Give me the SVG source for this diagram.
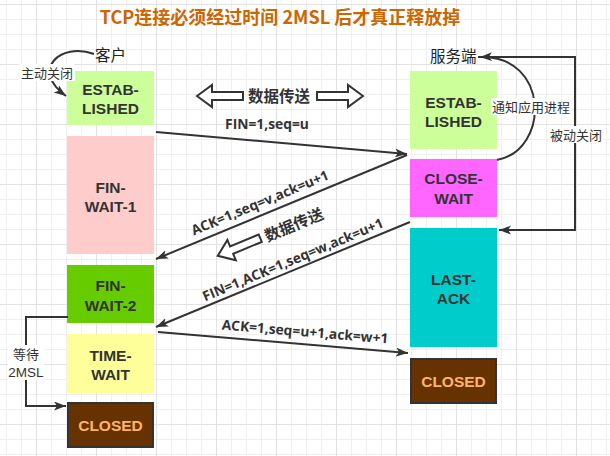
<svg xmlns="http://www.w3.org/2000/svg" width="610" height="456" viewBox="0 0 610 456">
  <defs>
    <pattern id="grid" x="36" y="4" width="60" height="60" patternUnits="userSpaceOnUse">
      <path d="M15.5 0V60M30.5 0V60M45.5 0V60M0 15.5H60M0 30.5H60M0 45.5H60" stroke="#f0f0f0" stroke-width="1" fill="none"/>
      <path d="M0.5 0V60M0 0.5H60" stroke="#e2e2e2" stroke-width="1" fill="none"/>
    </pattern>
    <marker id="arrow" markerUnits="userSpaceOnUse" markerWidth="13" markerHeight="10" refX="12" refY="4.5" orient="auto">
      <path d="M0,0 L12,4.5 L0,9 L3,4.5 Z" fill="#333"/>
    </marker>
    <path id="hollowLeft" d="M-23,0 L-8,-11 L-8,-4 L23,-4 L23,4 L-8,4 L-8,11 Z"/>
  </defs>
  <style>
    .box-text { font-family: 'Liberation Sans', Arial, 'Noto Sans CJK SC', sans-serif; font-weight: bold; font-size: 15.5px; fill: #333; text-anchor: middle; }
    .closed-text { fill: #ffb366; }
    .edge { fill: none; stroke: #333; stroke-width: 2; }
    .edge-label { font-family: 'Open Sans', 'Noto Sans', sans-serif; font-weight: bold; font-size: 13.8px; fill: #333; text-anchor: middle; }
    .cjk { font-family: 'Noto Sans CJK SC', sans-serif; fill: #333; }
    .note { font-size: 13px; text-anchor: middle; }
    .latin-note { font-family: 'Liberation Sans', Arial, sans-serif; font-size: 13.5px; fill: #333; text-anchor: middle; }
    .side { font-size: 15.5px; fill: #222; }
    .hollow { fill: #fff; stroke: #333; stroke-width: 2; stroke-linejoin: miter; }
  </style>

  <!-- background grid -->
  <rect width="610" height="456" fill="#fff"/>
  <rect width="610" height="456" fill="url(#grid)"/>

  <!-- title -->
  <text x="280" y="24" class="cjk" style="font-size:18px;font-weight:bold;fill:#cc6600" text-anchor="middle">TCP连接必须经过时间 2MSL 后才真正释放掉</text>

  <!-- side headings -->
  <text x="95" y="61" class="cjk side">客户</text>
  <text x="430" y="62" class="cjk side">服务端</text>

  <!-- client states -->
  <g id="client-established">
    <rect x="67" y="71" width="87" height="54" fill="#ccff99"/>
    <text class="box-text"><tspan x="110.5" y="95">ESTAB-</tspan><tspan x="110.5" y="114">LISHED</tspan></text>
  </g>
  <g id="client-fin-wait-1">
    <rect x="67" y="136" width="87" height="118" fill="#ffcccc"/>
    <text class="box-text"><tspan x="110.5" y="193">FIN-</tspan><tspan x="110.5" y="212">WAIT-1</tspan></text>
  </g>
  <g id="client-fin-wait-2">
    <rect x="67" y="265" width="87" height="58" fill="#66cc00"/>
    <text class="box-text"><tspan x="110.5" y="291">FIN-</tspan><tspan x="110.5" y="311">WAIT-2</tspan></text>
  </g>
  <g id="client-time-wait">
    <rect x="67" y="334" width="87" height="59" fill="#ffff99"/>
    <text class="box-text"><tspan x="110.5" y="361">TIME-</tspan><tspan x="110.5" y="380">WAIT</tspan></text>
  </g>
  <g id="client-closed">
    <rect x="68" y="403" width="85" height="44" fill="#663300" stroke="#333" stroke-width="2"/>
    <text class="box-text closed-text" x="110.5" y="431">CLOSED</text>
  </g>

  <!-- server states -->
  <g id="server-established">
    <rect x="410" y="71" width="87" height="78" fill="#ccff99"/>
    <text class="box-text"><tspan x="453.5" y="108">ESTAB-</tspan><tspan x="453.5" y="127">LISHED</tspan></text>
  </g>
  <g id="server-close-wait">
    <rect x="410" y="159" width="87" height="58" fill="#ff66ff"/>
    <text class="box-text"><tspan x="453.5" y="184">CLOSE-</tspan><tspan x="453.5" y="204">WAIT</tspan></text>
  </g>
  <g id="server-last-ack">
    <rect x="410" y="228" width="87" height="119" fill="#00cccc"/>
    <text class="box-text"><tspan x="453.5" y="285">LAST-</tspan><tspan x="453.5" y="304">ACK</tspan></text>
  </g>
  <g id="server-closed">
    <rect x="411" y="359" width="85" height="44" fill="#663300" stroke="#333" stroke-width="2"/>
    <text class="box-text closed-text" x="453.5" y="387">CLOSED</text>
  </g>

  <!-- data transfer indicators -->
  <g id="data-transfer-top">
    <use href="#hollowLeft" class="hollow" transform="translate(220,96)"/>
    <use href="#hollowLeft" class="hollow" transform="translate(340,96) scale(-1,1)"/>
    <text x="279" y="102" class="cjk" style="font-size:15.5px;font-weight:bold" text-anchor="middle">数据传送</text>
  </g>
  <g id="data-transfer-rotated">
    <use href="#hollowLeft" class="hollow" transform="translate(239,247) rotate(-22.6)"/>
    <text class="cjk" style="font-size:15.5px;font-weight:bold" text-anchor="middle" transform="translate(294,225) rotate(-22.6)" y="5.5">数据传送</text>
  </g>

  <!-- connectors -->
  <g id="connectors">
    <!-- active close -->
    <path class="edge" d="M94,54 C60,42 30,70 66,96" marker-end="url(#arrow)"/>
    <!-- notify application -->
    <path class="edge" d="M497,160 C550,150 550,55 480,57" marker-end="url(#arrow)"/>
    <!-- passive close -->
    <path class="edge" d="M478,57 L575,57 L575,230 L499,230" marker-end="url(#arrow)"/>
    <!-- wait 2MSL -->
    <path class="edge" d="M68,317 L26,317 L26,406 L66,406" marker-end="url(#arrow)"/>

    <!-- segment exchange -->
    <path class="edge" d="M156,132 L407,154" marker-end="url(#arrow)"/>
    <path class="edge" d="M407,155 L156,259" marker-end="url(#arrow)"/>
    <path class="edge" d="M410,222 L156,327" marker-end="url(#arrow)"/>
    <path class="edge" d="M158,332 L408,353" marker-end="url(#arrow)"/>

    <!-- connector labels -->
    <text class="edge-label" x="267" y="129">FIN=1,seq=u</text>
    <text class="edge-label" transform="translate(260,203) rotate(-22.6)" y="4.5">ACK=1,seq=v,ack=u+1</text>
    <text class="edge-label" transform="translate(293,260) rotate(-22.6)" y="4.5">FIN=1,ACK=1,seq=w,ack=u+1</text>
    <text class="edge-label" transform="translate(305,332) rotate(4.8)" y="4.5">ACK=1,seq=u+1,ack=w+1</text>

    <g id="label-active-close">
      <rect x="19" y="64" width="56" height="17" fill="#fff"/>
      <text class="cjk note" x="47" y="78">主动关闭</text>
    </g>
    <g id="label-notify">
      <rect x="491" y="98" width="80" height="17" fill="#fff"/>
      <text class="cjk note" x="531" y="112">通知应用进程</text>
    </g>
    <g id="label-passive-close">
      <rect x="548" y="126" width="56" height="17" fill="#fff"/>
      <text class="cjk note" x="576" y="140">被动关闭</text>
    </g>
    <g id="label-wait">
      <rect x="8" y="345" width="36" height="35" fill="#fff"/>
      <text class="cjk note" x="26" y="359">等待</text>
      <text class="latin-note" x="26" y="377">2MSL</text>
    </g>
  </g>
</svg>
